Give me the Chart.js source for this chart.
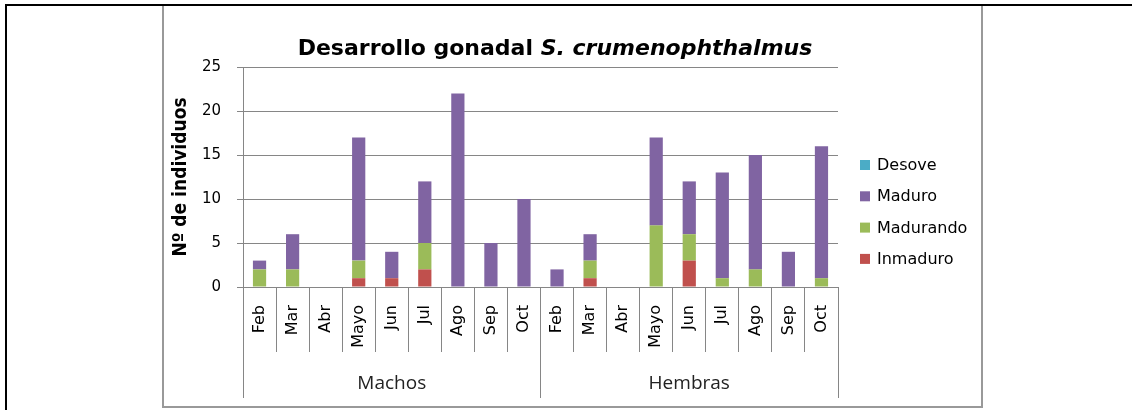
<!DOCTYPE html>
<html>
<head>
<meta charset="utf-8">
<script src="https://cdn.jsdelivr.net/npm/chart.js@4.4.1/dist/chart.umd.min.js"></script>
<style>
  html, body { margin: 0; padding: 0; background: #fff; width: 1132px; height: 410px; overflow: hidden; }
  #frame { position: absolute; left: 5px; top: 4px; right: 0; bottom: 0; border-top: 2px solid #000; border-left: 2px solid #000; }
  #box { position: absolute; left: 162px; top: 6px; width: 817px; height: 400px; border: 2px solid #999; border-top: none; }
  canvas { display: block; }
</style>
</head>
<body>
<div id="frame"></div>
<div id="box"><canvas id="chart" width="817" height="400"></canvas></div>
<script>
// Data
const months = ['Feb', 'Mar', 'Abr', 'Mayo', 'Jun', 'Jul', 'Ago', 'Sep', 'Oct'];
const groups = ['Machos', 'Hembras'];
//                 Machos ..................  Hembras ..................
const inmaduro  = [0, 0, 0, 1, 1, 2, 0, 0, 0,   0, 1, 0, 0, 3, 0, 0, 0, 0];
const madurando = [2, 2, 0, 2, 0, 3, 0, 0, 0,   0, 2, 0, 7, 3, 1, 2, 0, 1];
const maduro    = [1, 4, 0, 14, 3, 7, 22, 5, 10, 2, 3, 0, 10, 6, 12, 13, 4, 15];
const desove    = [0, 0, 0, 0, 0, 0, 0, 0, 0,   0, 0, 0, 0, 0, 0, 0, 0, 0];
const yTicks = { min: 0, max: 25, step: 5 };

const titleMain = 'Desarrollo gonadal ';
const titleSpecies = 'S. crumenophthalmus';
const yTitle = 'Nº de individuos';

const categories = groups.flatMap(() => months);

const axisGrey = '#868686';
const font = '"DejaVu Sans", Verdana, sans-serif';
const narrow = '"Liberation Sans Narrow", "DejaVu Sans Condensed", sans-serif';

// Title with the species name in italics
const titlePlugin = {
    id: 'mixedTitle',
    afterDraw(chart) {
        const ctx = chart.ctx;
        const bold = 'bold 22px ' + font;
        const italic = 'italic bold 22px ' + font;
        ctx.save();
        ctx.font = bold;
        const w1 = ctx.measureText(titleMain).width;
        ctx.font = italic;
        const w2 = ctx.measureText(titleSpecies).width;
        const x = 391 - (w1 + w2) / 2;
        ctx.fillStyle = '#000';
        ctx.textBaseline = 'alphabetic';
        ctx.font = bold;
        ctx.fillText(titleMain, x, 49);
        ctx.font = italic;
        ctx.fillText(titleSpecies, x + w1, 49);
        ctx.restore();
    }
};

// Legend on the right, top series first
const legendPlugin = {
    id: 'sideLegend',
    afterDraw(chart) {
        const ctx = chart.ctx;
        const items = chart.data.datasets.slice().reverse();
        ctx.save();
        ctx.font = '16px ' + font;
        ctx.textBaseline = 'middle';
        items.forEach((ds, i) => {
            const y = 159 + i * 31.3;
            ctx.fillStyle = ds.backgroundColor;
            ctx.fillRect(696, y - 5, 10, 10);
            ctx.fillStyle = '#000';
            ctx.fillText(ds.label, 713, y + 1);
        });
        ctx.restore();
    }
};

const ctx = document.getElementById('chart').getContext('2d');
const chart = new Chart(ctx, {
    type: 'bar',
    data: {
        labels: categories,
        datasets: [
            { label: 'Inmaduro', data: inmaduro, backgroundColor: '#c0504d' },
            { label: 'Madurando', data: madurando, backgroundColor: '#9bbb59' },
            { label: 'Maduro', data: maduro, backgroundColor: '#8064a2' },
            { label: 'Desove', data: desove, backgroundColor: '#4bacc6' }
        ]
    },
    options: {
        responsive: false,
        animation: false,
        categoryPercentage: 1,
        barPercentage: 0.4,
        layout: { padding: { left: 0, right: 143, top: 61, bottom: 0 } },
        plugins: {
            legend: { display: false },
            tooltip: { enabled: false }
        },
        scales: {
            x: {
                type: 'category',
                stacked: true,
                offset: true,
                weight: 0,
                grid: { offset: true, drawOnChartArea: false, tickLength: 65, color: axisGrey },
                border: { color: axisGrey },
                ticks: {
                    autoSkip: false, minRotation: 90, maxRotation: 90, padding: -47,
                    color: '#000', font: { family: font, size: 16 }
                },
                afterFit: (scale) => { scale.height = 65; }
            },
            x2: {
                type: 'category',
                labels: groups,
                position: 'bottom',
                offset: true,
                weight: 1,
                grid: { offset: true, drawOnChartArea: false, tickLength: 46, color: axisGrey },
                border: { display: false },
                ticks: { padding: -26, color: '#222', font: { family: '"Open Sans", sans-serif', size: 19 } },
                afterFit: (scale) => { scale.height = 54; }
            },
            y: {
                stacked: true,
                min: yTicks.min,
                max: yTicks.max,
                grid: { color: axisGrey, tickLength: 6 },
                border: { color: axisGrey },
                ticks: { stepSize: yTicks.step, padding: 16, color: '#000', font: { family: font, size: 15 } },
                title: {
                    display: true, text: yTitle, color: '#000',
                    font: { family: narrow, size: 19, weight: 'bold' },
                    padding: { top: 6, bottom: 0 }
                },
                afterFit: (scale) => { scale.width = 79; }
            }
        }
    },
    plugins: [titlePlugin, legendPlugin]
});
</script>
</body>
</html>
